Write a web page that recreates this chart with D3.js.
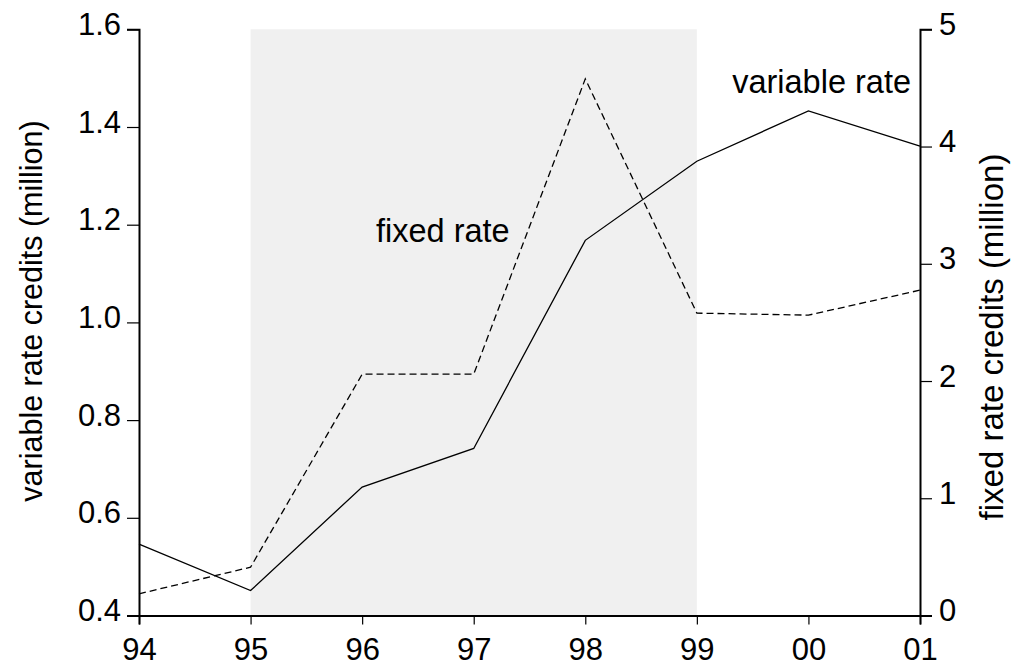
<!DOCTYPE html>
<html>
<head>
<meta charset="utf-8">
<script src="https://cdn.jsdelivr.net/npm/d3@7"></script>
<style>
  html, body { margin: 0; padding: 0; background: #fff; }
  svg { display: block; font-family: "Liberation Sans", Arial, sans-serif; }
</style>
</head>
<body>
<svg id="chart" width="1015" height="668"></svg>
<script>
// ---- data ----
const years = ["94", "95", "96", "97", "98", "99", "00", "01"];
const variableRate = [0.546, 0.451, 0.663, 0.742, 1.168, 1.330, 1.433, 1.361]; // left axis, million
const fixedRate = [0.185, 0.412, 2.058, 2.058, 4.577, 2.579, 2.562, 2.775];   // right axis, million
const leftTicks = [0.4, 0.6, 0.8, 1.0, 1.2, 1.4, 1.6];
const rightTicks = [0, 1, 2, 3, 4, 5];
const shadeRange = ["95", "99"];
const leftTitle = "variable rate credits (million)";
const rightTitle = "fixed rate credits (million)";
const seriesLabels = { variable: "variable rate", fixed: "fixed rate" };

// ---- layout ----
const svg = d3.select("#chart");
const m = { left: 139, right: 920, top: 29.3, bottom: 615.5 };
const FS_TICK = 31;
const FS_TITLE_L = 30.5;
const FS_TITLE_R = 33;
const FS_LABEL = 32.5;

const x = d3.scalePoint().domain(years).range([m.left, m.right]);
const yL = d3.scaleLinear().domain([0.4, 1.6]).range([m.bottom, m.top]);
const yR = d3.scaleLinear().domain([0, 5]).range([m.bottom, m.top]);

// shaded region
svg.append("rect")
  .attr("x", x(shadeRange[0]))
  .attr("y", m.top)
  .attr("width", x(shadeRange[1]) - x(shadeRange[0]))
  .attr("height", m.bottom - m.top)
  .attr("fill", "#f0f0f0");

// lines
const idx = d3.range(years.length);
svg.append("path")
  .datum(idx)
  .attr("fill", "none")
  .attr("stroke", "#000")
  .attr("stroke-width", 1.3)
  .attr("stroke-dasharray", "7,4")
  .attr("d", d3.line().x(i => x(years[i])).y(i => yR(fixedRate[i])));

svg.append("path")
  .datum(idx)
  .attr("fill", "none")
  .attr("stroke", "#000")
  .attr("stroke-width", 1.3)
  .attr("d", d3.line().x(i => x(years[i])).y(i => yL(variableRate[i])));

// axes
function styleAxis(g) {
  g.select(".domain").attr("stroke", "#000").attr("stroke-width", 2);
  g.selectAll(".tick line").attr("stroke", "#000").attr("stroke-width", 1.2);
  g.selectAll(".tick text").attr("fill", "#000").attr("font-size", FS_TICK)
    .attr("font-family", '"Liberation Sans", Arial, sans-serif');
}

const gL = svg.append("g").attr("transform", `translate(${m.left},0)`)
  .call(d3.axisLeft(yL).tickValues(leftTicks).tickFormat(d3.format(".1f")).tickSizeOuter(0).tickSize(12).tickPadding(6));
styleAxis(gL);
gL.selectAll(".tick text").attr("dy", 5);

const gR = svg.append("g").attr("transform", `translate(${m.right},0)`)
  .call(d3.axisRight(yR).tickValues(rightTicks).tickFormat(d3.format("d")).tickSizeOuter(0).tickSize(12).tickPadding(7));
styleAxis(gR);
gR.selectAll(".tick text").attr("dy", 5);

const gB = svg.append("g").attr("transform", `translate(0,${m.bottom})`)
  .call(d3.axisBottom(x).tickSizeOuter(0).tickSize(9).tickPadding(8));
styleAxis(gB);
gB.selectAll(".tick text").attr("dy", 0).attr("y", 44.5);

// axis titles
svg.append("text")
  .attr("transform", `translate(42,311) rotate(-90)`)
  .attr("text-anchor", "middle")
  .attr("font-size", FS_TITLE_L)
  .attr("fill", "#000")
  .text(leftTitle);

svg.append("text")
  .attr("transform", `translate(1003,337) rotate(-90)`)
  .attr("text-anchor", "middle")
  .attr("font-size", FS_TITLE_R)
  .attr("fill", "#000")
  .text(rightTitle);

// series labels
svg.append("text")
  .attr("x", 911).attr("y", 92.7)
  .attr("text-anchor", "end")
  .attr("font-size", FS_LABEL)
  .attr("fill", "#000")
  .text(seriesLabels.variable);

svg.append("text")
  .attr("x", 376).attr("y", 242.3)
  .attr("font-size", FS_LABEL)
  .attr("fill", "#000")
  .text(seriesLabels.fixed);
</script>
</body>
</html>
